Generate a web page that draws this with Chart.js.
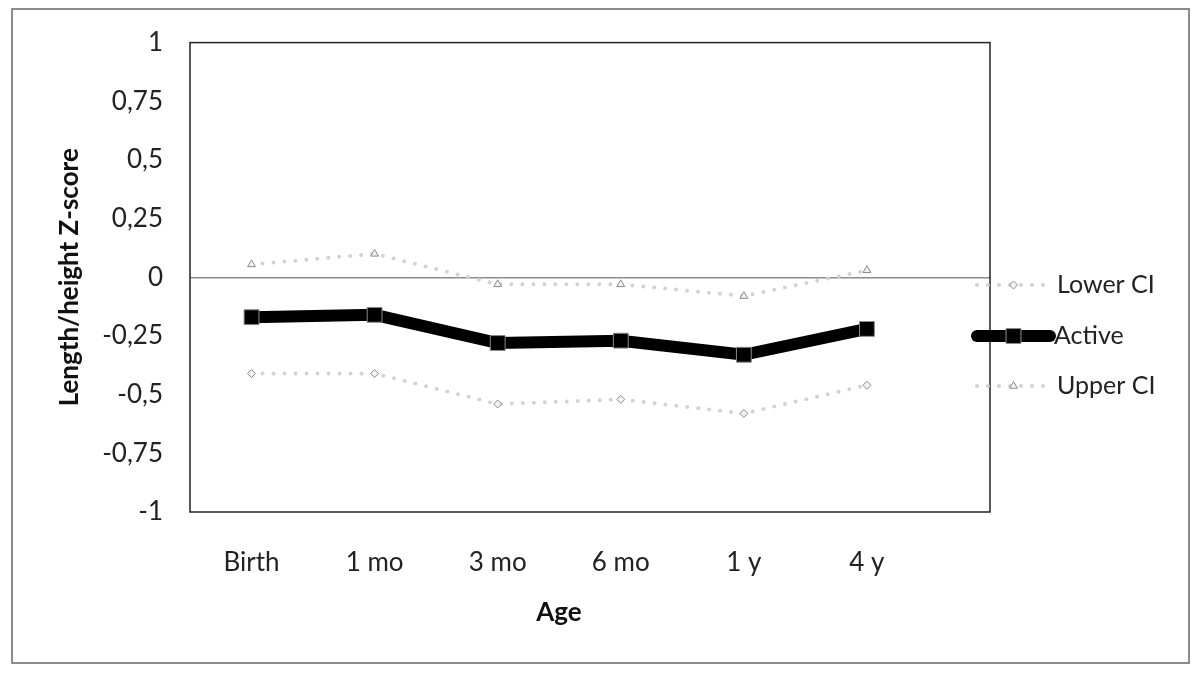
<!DOCTYPE html>
<html>
<head>
<meta charset="utf-8">
<script src="https://cdn.jsdelivr.net/npm/chart.js@4/dist/chart.umd.min.js"></script>
<style>
  html, body { margin: 0; padding: 0; background: #fff; }
  #wrap { position: relative; width: 1200px; height: 675px; }
  #frame { position: absolute; left: 11px; top: 8px; width: 1175px; height: 652px; border: 2px solid #8c8c8c; }
  canvas { position: absolute; left: 0; top: 0; }
</style>
</head>
<body>
<div id="wrap">
  <div id="frame"></div>
  <canvas id="chart" width="1200" height="675"></canvas>
</div>
<script>
// Длина/рост Z-score по возрасту
const ages = ["Birth", "1 mo", "3 mo", "6 mo", "1 y", "4 y"];
const lowerCI = [-0.41, -0.41, -0.54, -0.52, -0.58, -0.46];
const active = [-0.17, -0.16, -0.28, -0.27, -0.33, -0.22];
const upperCI = [0.055, 0.10, -0.03, -0.03, -0.08, 0.03];
const yTicks = [-1, -0.75, -0.5, -0.25, 0, 0.25, 0.5, 0.75, 1];

const FONT = "Lato, 'Open Sans', sans-serif";
const toPoints = (arr) => arr.map((v, i) => ({ x: i, y: v }));

// рамка области графика
const plotBorder = {
  id: "plotBorder",
  afterDatasetsDraw(chart) {
    const { ctx, chartArea: a } = chart;
    ctx.save();
    ctx.strokeStyle = "#222";
    ctx.lineWidth = 1.5;
    ctx.strokeRect(a.left, a.top, a.right - a.left, a.bottom - a.top);
    ctx.restore();
  },
};

// подпись оси X (в оригинале сдвинута левее центра)
const xTitle = {
  id: "xTitle",
  afterDraw(chart) {
    const { ctx } = chart;
    ctx.save();
    ctx.fillStyle = "#111";
    ctx.font = "bold 26px " + FONT;
    ctx.textAlign = "center";
    ctx.textBaseline = "middle";
    ctx.fillText("Age", 559, 613);
    ctx.restore();
  },
};

// легенда справа: линия + маркер
const sideLegend = {
  id: "sideLegend",
  afterDraw(chart) {
    const { ctx } = chart;
    const ys = [285, 336, 386];
    const x0 = 977, x1 = 1050;
    chart.data.datasets.forEach((ds, i) => {
      const y = ys[i];
      ctx.save();
      ctx.strokeStyle = ds.borderColor;
      ctx.lineWidth = ds.borderWidth;
      ctx.lineCap = ds.borderCapStyle || "butt";
      ctx.setLineDash(ds.borderDash || []);
      ctx.beginPath();
      ctx.moveTo(x0, y);
      ctx.lineTo(x1, y);
      ctx.stroke();
      ctx.restore();
      ctx.save();
      ctx.fillStyle = ds.pointBackgroundColor;
      ctx.strokeStyle = ds.pointBorderColor;
      ctx.lineWidth = ds.pointBorderWidth;
      Chart.helpers.drawPoint(ctx, {
        pointStyle: ds.pointStyle,
        radius: ds.pointRadius,
        rotation: 0,
        borderWidth: ds.pointBorderWidth,
      }, (x0 + x1) / 2, y);
      ctx.restore();
      ctx.save();
      ctx.fillStyle = "#222";
      ctx.font = "25px " + FONT;
      ctx.textBaseline = "middle";
      ctx.fillText(ds.label, i === 1 ? 1054 : 1057, y);
      ctx.restore();
    });
  },
};

new Chart(document.getElementById("chart"), {
  type: "line",
  data: {
    datasets: [
      {
        label: "Lower CI",
        data: toPoints(lowerCI),
        borderColor: "#d2d2d2",
        borderWidth: 4,
        borderDash: [0, 11],
        borderCapStyle: "round",
        pointStyle: "rectRot",
        pointRadius: 4,
        pointBackgroundColor: "#f2f2f2",
        pointBorderColor: "#8a8a8a",
        pointBorderWidth: 1,
        tension: 0,
      },
      {
        label: "Active",
        data: toPoints(active),
        borderColor: "#000000",
        borderWidth: 12,
        borderCapStyle: "round",
        pointStyle: "rect",
        pointRadius: 10.5,
        pointBackgroundColor: "#000000",
        pointBorderColor: "#8a8a8a",
        pointBorderWidth: 1,
        tension: 0,
      },
      {
        label: "Upper CI",
        data: toPoints(upperCI),
        borderColor: "#d2d2d2",
        borderWidth: 4,
        borderDash: [0, 11],
        borderCapStyle: "round",
        pointStyle: "triangle",
        pointRadius: 4.5,
        pointBackgroundColor: "#f2f2f2",
        pointBorderColor: "#8a8a8a",
        pointBorderWidth: 1,
        tension: 0,
      },
    ],
  },
  options: {
    responsive: false,
    animation: false,
    layout: { padding: { left: 0, top: 42, right: 210, bottom: 0 } },
    plugins: {
      legend: { display: false },
      tooltip: { enabled: false },
    },
    scales: {
      x: {
        type: "linear",
        min: -0.5,
        max: 6,
        afterBuildTicks: (s) => { s.ticks = ages.map((_, i) => ({ value: i })); },
        grid: { display: false },
        border: { display: false },
        ticks: {
          color: "#222",
          font: { family: FONT, size: 26 },
          padding: 27,
          maxRotation: 0,
          callback: (v) => ages[v],
        },
        title: { display: false },
        afterFit: (s) => { s.height = 163; },
      },
      y: {
        min: -1,
        max: 1,
        afterBuildTicks: (s) => { s.ticks = yTicks.map((v) => ({ value: v })); },
        grid: {
          drawTicks: false,
          color: (c) => (c.tick && c.tick.value === 0 ? "#8c8c8c" : "transparent"),
          lineWidth: 1.5,
        },
        border: { display: false },
        ticks: {
          color: "#222",
          font: { family: FONT, size: 26 },
          padding: 27,
          callback: (v) => String(v).replace(".", ","),
        },
        title: {
          display: true,
          text: "Length/height Z-score",
          color: "#111",
          font: { family: FONT, size: 26, weight: "bold" },
          padding: { top: 54, bottom: 0 },
        },
        afterFit: (s) => { s.width = 190; },
      },
    },
  },
  plugins: [plotBorder, xTitle, sideLegend],
});
</script>
</body>
</html>
